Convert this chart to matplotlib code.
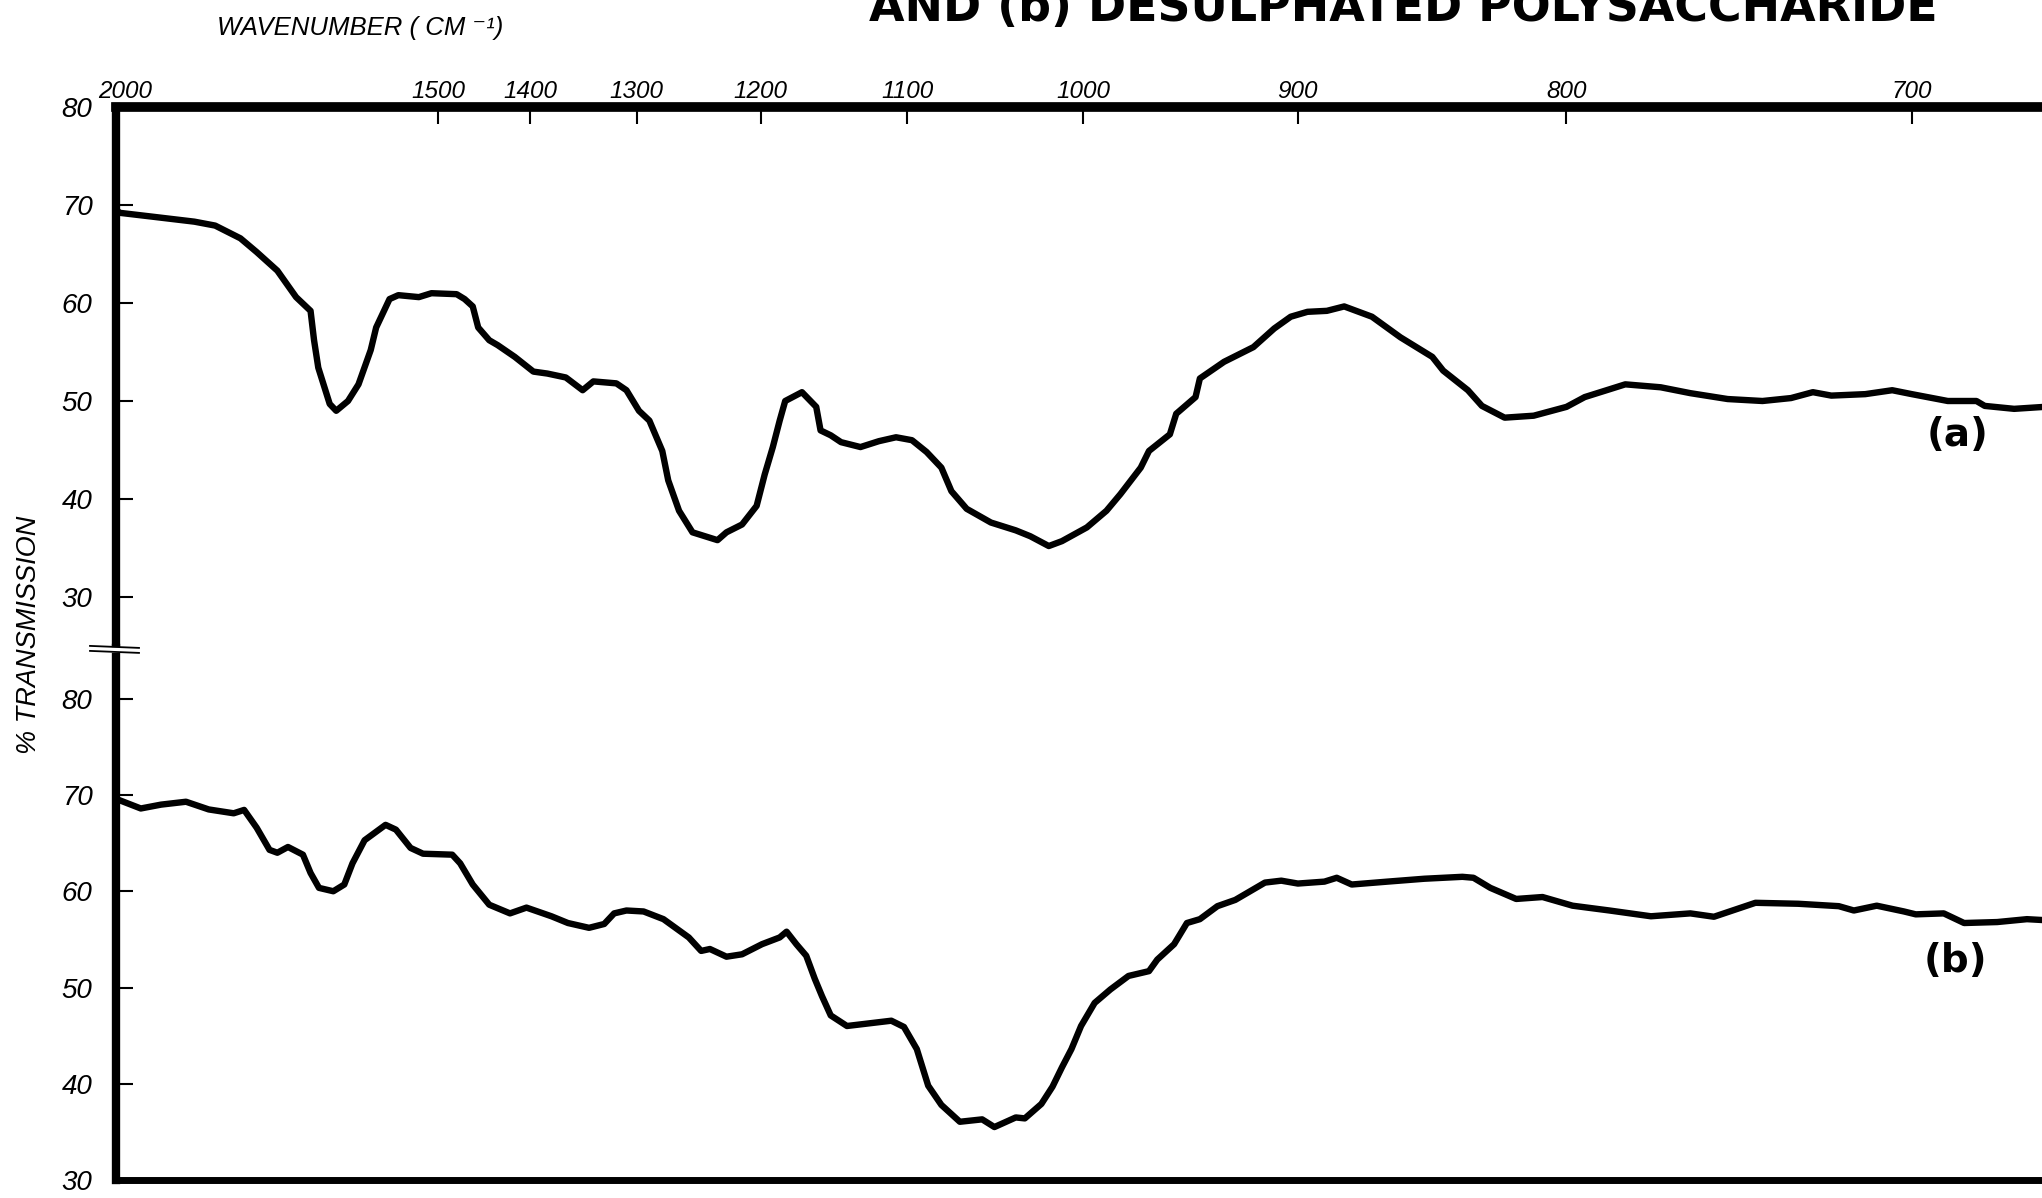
import numpy as np
import matplotlib
matplotlib.use('Agg')
import matplotlib.pyplot as plt
from matplotlib.lines import Line2D
from matplotlib.transforms import ScaledTranslation

plt.rcParams['font.family'] = ['Liberation Sans', 'DejaVu Sans']

# spectrum (a): wavenumber (cm-1) and % transmission
wn_a = [2000, 1992, 1934, 1850, 1814, 1772, 1746, 1714, 1686, 1665, 1660, 1654, 1638, 1629,
        1613, 1599, 1583, 1576, 1559, 1548, 1523, 1508, 1479, 1470, 1461, 1455, 1443, 1434,
        1416, 1397, 1383, 1365, 1349, 1339, 1318, 1309, 1298, 1289, 1278, 1273, 1264, 1253,
        1233, 1226, 1214, 1203, 1197, 1191, 1186, 1182, 1170, 1160, 1157, 1150, 1143, 1130,
        1118, 1107, 1097, 1088, 1079, 1073, 1064, 1050, 1036, 1028, 1018, 1011, 998, 988,
        981, 971, 967, 957, 954, 945, 943, 932, 919, 910, 903, 896, 888, 881, 870, 859,
        847, 843, 834, 829, 821, 811, 800, 794, 781, 770, 761, 750, 740, 732, 726, 721,
        712, 705, 700, 691, 684, 682, 675, 668]
t_a = [69.5, 69.2, 68.85, 68.3, 67.9, 66.6, 65.2, 63.3, 60.6, 59.2, 56.2, 53.4, 49.7, 49.0,
       50.0, 51.7, 55.2, 57.5, 60.4, 60.8, 60.6, 61.0, 60.9, 60.4, 59.65, 57.5, 56.2, 55.7,
       54.5, 53.0, 52.8, 52.4, 51.1, 52.0, 51.8, 51.1, 49.0, 48.0, 44.9, 41.9, 38.8, 36.6,
       35.8, 36.6, 37.4, 39.3, 42.5, 45.3, 48.0, 50.0, 50.9, 49.4, 47.0, 46.5, 45.8, 45.3,
       45.9, 46.3, 46.0, 44.8, 43.2, 40.8, 39.0, 37.6, 36.8, 36.2, 35.2, 35.7, 37.1, 38.8,
       40.5, 43.2, 44.9, 46.6, 48.7, 50.4, 52.3, 54.0, 55.5, 57.4, 58.6, 59.1, 59.2, 59.65,
       58.6, 56.5, 54.5, 53.1, 51.1, 49.5, 48.3, 48.5, 49.4, 50.4, 51.7, 51.4, 50.8, 50.2,
       50.0, 50.3, 50.9, 50.55, 50.7, 51.1, 50.7, 50.0, 50.0, 49.5, 49.2, 49.4]

# spectrum (b): desulphated polysaccharide
wn_b = [2000, 1950, 1911, 1865, 1825, 1783, 1766, 1746, 1726, 1714, 1698, 1676, 1665, 1653,
        1633, 1618, 1607, 1591, 1564, 1551, 1533, 1518, 1484, 1475, 1461, 1443, 1421, 1404,
        1379, 1363, 1343, 1329, 1320, 1309, 1294, 1277, 1256, 1246, 1239, 1226, 1214, 1199,
        1186, 1181, 1174, 1167, 1161, 1156, 1150, 1139, 1123, 1110, 1102, 1094, 1087, 1079,
        1068, 1055, 1048, 1036, 1031, 1022, 1016, 1011, 1006, 1001, 994, 986, 977, 967,
        963, 955, 949, 943, 935, 927, 914, 907, 900, 889, 884, 878, 864, 850, 836, 832,
        826, 817, 808, 798, 786, 773, 761, 754, 742, 730, 719, 715, 709, 702, 699, 692,
        687, 679, 672, 668]
t_b = [69.6, 68.6, 69.0, 69.3, 68.5, 68.1, 68.45, 66.6, 64.3, 64.0, 64.6, 63.8, 61.9, 60.35,
       60.0, 60.7, 62.9, 65.3, 66.9, 66.4, 64.5, 63.9, 63.8, 62.9, 60.7, 58.6, 57.7, 58.3,
       57.4, 56.7, 56.2, 56.6, 57.7, 58.0, 57.9, 57.1, 55.2, 53.8, 54.0, 53.2, 53.45, 54.5,
       55.2, 55.8, 54.5, 53.3, 50.9, 49.1, 47.1, 46.0, 46.3, 46.55, 45.9, 43.6, 39.8, 37.8,
       36.05, 36.3, 35.5, 36.5, 36.4, 37.9, 39.7, 41.7, 43.6, 46.0, 48.4, 49.8, 51.2, 51.7,
       52.9, 54.5, 56.7, 57.1, 58.45, 59.1, 60.9, 61.1, 60.8, 61.0, 61.4, 60.7, 61.0, 61.3,
       61.5, 61.4, 60.35, 59.2, 59.4, 58.5, 58.0, 57.4, 57.7, 57.35, 58.8, 58.7, 58.45, 58.0,
       58.5, 57.9, 57.6, 57.7, 56.7, 56.8, 57.1, 57.0]

x_ticks = [2000, 1500, 1400, 1300, 1200, 1100, 1000, 900, 800, 700]
y_ticks = [30, 40, 50, 60, 70, 80]


# chart paper is linear in wavelength, i.e. 1/wavenumber
def inv(x):
    x = np.asarray(x, dtype=float)
    with np.errstate(divide='ignore'):
        return 1e4 / x


W, H = 2042, 1198
fig = plt.figure(figsize=(W / 100, H / 100), dpi=100)
left = 116 / W
y_top, y_brk, y_bot = 107, 647.5, 1180
ax_a = fig.add_axes([left, 1 - y_brk / H, 1 - left, (y_brk - y_top) / H])
ax_b = fig.add_axes([left, 1 - y_bot / H, 1 - left, (y_bot - y_brk) / H])

tick_font = dict(family=['Liberation Sans', 'DejaVu Sans'], style='italic')

for ax, wn, t in [(ax_a, wn_a, t_a), (ax_b, wn_b, t_b)]:
    ax.set_xscale('function', functions=(inv, inv))
    ax.plot(wn, t, color='black', lw=4.6, solid_joinstyle='round', solid_capstyle='round')
    ax.set_xlim(668.5, 2000)
    ax.set_yticks(y_ticks)
    ax.set_yticklabels([str(v) for v in y_ticks], fontsize=20, **tick_font)
    ax.tick_params(axis='y', direction='in', length=12, width=1.5, pad=17, left=True, right=False)
    ax.spines['right'].set_visible(False)
    ax.spines['left'].set_linewidth(6)
    ax.patch.set_alpha(0)

ax_a.set_ylim(80 - (y_brk - y_top) / 9.8, 80)
ax_b.set_ylim(30, 30 + (y_bot - y_brk) / 9.625)

ax_a.spines['bottom'].set_visible(False)
ax_a.spines['top'].set_linewidth(7)
ax_b.spines['top'].set_visible(False)
ax_b.spines['bottom'].set_linewidth(5)

ax_a.set_xticks(x_ticks)
ax_a.set_xticklabels([str(v) for v in x_ticks], fontsize=17.5, **tick_font)
ax_a.tick_params(axis='x', which='both', top=True, bottom=False, labeltop=True,
                 labelbottom=False, direction='in', length=12, width=1.5, pad=3)
ax_a.minorticks_off()
lbl0 = ax_a.get_xticklabels()[0]
lbl0.set_transform(lbl0.get_transform() + ScaledTranslation(0.09, 0, fig.dpi_scale_trans))

ax_b.set_xticks([])
ax_b.minorticks_off()

# axis break on the left spine
yb = 1 - 649.5 / H
fig.add_artist(Line2D([100 / W, 135 / W], [yb, yb], transform=fig.transFigure,
                      color='white', lw=4))
for dy in (-2.6, 2.4):
    fig.add_artist(Line2D([90 / W, 139 / W], [yb - (dy - 1) / H, yb - (dy + 1) / H],
                          transform=fig.transFigure, color='black', lw=1.3))

fig.text(29 / W, 1 - 635 / H, '% TRANSMISSION', rotation=90, ha='center', va='center',
         fontsize=19.5, **tick_font)
fig.text(217 / W, 1 - 28 / H, 'WAVENUMBER ( CM \u207b\u00b9)', ha='left', va='center',
         fontsize=18.5, **tick_font)
fig.text(1403 / W, 1 - 21 / H, 'AND (b) DESULPHATED POLYSACCHARIDE', ha='center',
         va='baseline', fontsize=33, weight='bold', family=['DejaVu Sans'])
fig.text(1958 / W, 1 - 435 / H, '(a)', ha='center', va='center', fontsize=28,
         weight='bold', family=['DejaVu Sans'])
fig.text(1955 / W, 1 - 961 / H, '(b)', ha='center', va='center', fontsize=28,
         weight='bold', family=['DejaVu Sans'])

fig.savefig('out.png', dpi=100, facecolor='white')
